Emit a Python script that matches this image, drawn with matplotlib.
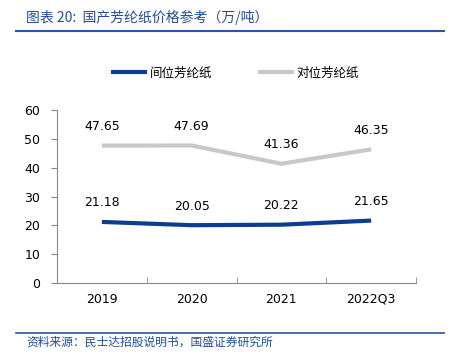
import matplotlib
matplotlib.use("Agg")
import matplotlib.pyplot as plt
from matplotlib.lines import Line2D

plt.rcParams['font.family'] = ['DejaVu Sans', 'Noto Sans CJK SC']

categories = ["2019", "2020", "2021", "2022Q3"]
meta = [21.18, 20.05, 20.22, 21.65]
para = [47.65, 47.69, 41.36, 46.35]
series_names = ["间位芳纶纸", "对位芳纶纸"]
title = "图表 20:  国产芳纶纸价格参考（万/吨）"
source = "资料来源：民士达招股说明书，国盛证券研究所"

W, H = 454, 358
fig = plt.figure(figsize=(W/100, H/100), dpi=100)
ax = fig.add_axes([57/W, 1-283/H, (416-57)/W, (283-110)/H])

x = list(range(len(categories)))
blue = "#0b3d91"
gray = "#c8c8c8"
ax.plot(x, meta, color=blue, lw=3, solid_capstyle='butt')
ax.plot(x, para, color=gray, lw=3, solid_capstyle='butt')
for xi, v in zip(x, meta):
    ax.annotate(f"{v:.2f}", (xi, v), xytext=(0, 9), textcoords='offset points',
                ha='center', va='bottom', fontsize=9, color='black')
for xi, v in zip(x, para):
    ax.annotate(f"{v:.2f}", (xi, v), xytext=(0, 9), textcoords='offset points',
                ha='center', va='bottom', fontsize=9, color='black')

ax.set_xlim(-0.5, len(categories)-0.5)
ax.set_ylim(0, 60)
ax.set_yticks(range(0, 61, 10))
ax.set_xticks(x)
ax.set_xticklabels(categories, fontsize=9)
ax.tick_params(axis='x', length=0, pad=7)
ax.set_xticks([i+0.5 for i in x], minor=True)
ax.tick_params(axis='x', which='minor', direction='in', length=4, color='#888888')
ax.tick_params(axis='y', direction='out', length=4, color='#888888', labelsize=9, pad=8)
for s in ['top', 'right']:
    ax.spines[s].set_visible(False)
for s in ['left', 'bottom']:
    ax.spines[s].set_color('#888888')
    ax.spines[s].set_linewidth(0.8)

handles = [Line2D([], [], color=blue, lw=3), Line2D([], [], color=gray, lw=3)]
fig.legend(handles, series_names, loc='center', bbox_to_anchor=(236/W, 1-73/H), ncol=2,
           frameon=False, handlelength=2.6, handletextpad=0.35, columnspacing=3.8,
           prop={'family': 'Noto Sans CJK SC', 'size': 9})

fig.text(26/W, 1-17/H, title, fontsize=10, color='#1f4e99', va='center', ha='left',
         family=['Noto Sans CJK SC'], style='italic')
fig.add_artist(Line2D([16/W, 444/W], [1-31/H, 1-31/H], color='#2a56a6', lw=1.5))
fig.add_artist(Line2D([16/W, 444/W], [1-333/H, 1-333/H], color='#2a56a6', lw=1.2))
fig.text(26/W, 1-342/H, source, fontsize=8.5, color='#1f4e99', va='center', ha='left',
         family=['Noto Sans CJK SC'], style='italic')

fig.savefig("out.png", dpi=100)
